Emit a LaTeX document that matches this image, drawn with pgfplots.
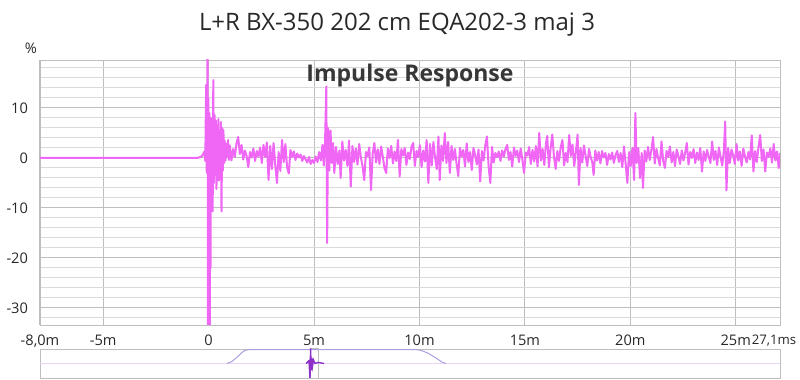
\documentclass[border=0pt]{standalone}
\usepackage{pgfplots}
\pgfplotsset{compat=1.18}
\usetikzlibrary{calc}
\usepackage{fontspec}
\setmainfont{Open Sans}
\definecolor{irpink}{RGB}{240,102,245}
\definecolor{gridmaj}{RGB}{190,190,190}
\definecolor{gridmin}{RGB}{218,218,218}
\definecolor{txt}{RGB}{40,40,40}
\definecolor{winpurple}{RGB}{170,160,225}
\definecolor{ovtrace}{RGB}{232,212,245}
\definecolor{ovimp}{RGB}{140,50,200}
\begin{document}
\begin{tikzpicture}
\begin{axis}[
  name=main,
  at={(0,0)}, anchor=south west, scale only axis,
  width=370pt, height=132.5pt,
  xmin=-8, xmax=27.1, ymin=-33.4, ymax=19.6,
  axis line style={gridmaj},
  xtick={-8,-5,0,5,10,15,20,25,27.1},
  xticklabels={-8{,}0m,-5m,0,5m,10m,15m,20m,25m,{\makebox[0pt][c]{\hspace*{-6pt}\fontsize{6.6}{8}\selectfont 27{,}1ms}}},
  ytick={-30,-20,-10,0,10},
  yticklabels={-30,-20,-10,0,10},
  minor ytick={-32,-28,-26,-24,-22,-18,-16,-14,-12,-8,-6,-4,-2,2,4,6,8,12,14,16,18},
  xmajorgrids, ymajorgrids, yminorgrids,
  major grid style={gridmaj, line width=0.5pt},
  minor grid style={gridmin, line width=0.5pt},
  major tick length=0pt, minor tick length=0pt,
  tick label style={font=\fontsize{7.3}{9}\selectfont, text=txt},
  xticklabel style={yshift=-1.5pt},
  yticklabel style={xshift=-2.5pt},
  /pgf/number format/assume math mode=true,
  clip=true,
]
\addplot[irpink, line width=1pt, line join=round] table {
x y
-8 0
-1.0 0
-0.5 0.05
-0.4 0.2
-0.32 0.4
-0.26 0.8
-0.2 1.3
-0.16 -0.6
-0.12 14.6
-0.09 -3
-0.07 6
-0.05 25
-0.03 -40
-0.01 12
0.01 -40
0.03 9
0.05 -40
0.07 5
0.09 -22
0.11 8
0.13 -9
0.16 6
0.19 -10.7
0.22 15.6
0.25 -5
0.28 8.6
0.31 -3
0.34 7.5
0.37 -6.2
0.40 6.5
0.43 -2
0.46 7.8
0.49 -4.5
0.52 5.5
0.55 -1
0.58 7.2
0.61 -10.7
0.64 6
0.67 -2.5
0.70 5.6
0.73 -1
0.76 3.5
0.80 -0.5
0.84 2.8
0.88 0.2
0.92 3.6
0.96 -0.4
1.00 2.5
1.08 -0.5
1.16 1.8
1.24 0.2
1.32 2.9
1.40 4.2
1.48 0.8
1.56 2.6
1.64 -0.3
1.72 1.5
1.80 0.4
1.88 -1.8
1.96 1.2
2.04 0.1
2.12 1.9
2.20 -0.6
2.28 1.4
2.36 0.3
2.44 2.1
2.52 -1.0
2.60 2.6
2.68 0.2
2.76 3.1
2.84 -4.4
2.92 2.4
3.00 -2.2
3.08 3.0
3.16 -1.5
3.24 -5.0
3.32 1.2
3.40 -2.6
3.48 3.6
3.56 -0.8
3.64 2.8
3.72 -1.9
3.80 -3.1
3.88 1.6
3.96 0.2
4.04 1.3
4.12 -0.4
4.20 0.9
4.28 0.1
4.36 0.7
4.44 -0.6
4.52 0.4
4.60 -0.3
4.68 -0.9
4.76 0.2
4.84 -1.2
4.92 -0.4
5.00 -1.0
5.08 0.3
5.16 -0.8
5.24 1.2
5.32 -0.5
5.40 2.6
5.46 -1.5
5.52 3.0
5.58 14.3
5.62 -17.0
5.66 6.0
5.72 -2.5
5.78 5.5
5.84 -1.0
5.90 3.0
5.96 -3.0
6.04 2.2
6.12 -1.2
6.20 1.5
6.26 -4.0
6.34 3.3
6.42 -0.5
6.50 1.6
6.58 -1.6
6.66 3.5
6.74 -5.7
6.82 2.4
6.90 -0.8
6.98 1.9
7.06 -1.3
7.14 2.8
7.22 0.1
7.30 -1.6
7.38 -4.4
7.46 1.2
7.54 0.4
7.62 2.1
7.70 -6.4
7.78 0.9
7.86 3.0
7.94 -0.9
8.02 1.7
8.10 -1.2
8.18 2.3
8.26 0.3
8.34 -2.0
8.42 -3.0
8.50 1.9
8.58 0.0
8.66 2.4
8.74 -1.1
8.82 1.3
8.90 -0.6
8.98 3.6
9.06 -3.7
9.14 1.8
9.22 0.5
9.30 2.0
9.38 -1.4
9.46 1.1
9.54 -0.2
9.62 2.2
9.70 3.0
9.78 -1.6
9.86 1.4
9.94 0.2
10.02 2.6
10.10 -1.8
10.18 1.5
10.26 -0.7
10.34 3.6
10.42 -5.0
10.50 2.8
10.58 -1.5
10.66 3.2
10.74 0.1
10.82 -2.2
10.90 4.3
10.96 -4.4
11.04 2.5
11.12 -0.6
11.20 5.0
11.28 -1.0
11.36 3.2
11.44 -3.0
11.52 2.4
11.60 -0.4
11.68 1.8
11.76 -1.2
11.84 -3.6
11.92 2.0
12.00 0.3
12.08 1.6
12.16 -1.7
12.24 2.9
12.32 -0.8
12.40 1.2
12.48 -2.4
12.56 2.0
12.64 0.6
12.72 -1.3
12.80 1.7
12.88 -4.7
12.96 1.4
13.04 -0.5
13.12 2.5
13.20 4.3
13.28 -1.8
13.36 -5.0
13.44 2.2
13.52 -0.9
13.60 1.0
13.68 0.2
13.76 1.3
13.84 -0.6
13.92 1.5
14.00 0.3
14.08 1.8
14.16 2.6
14.24 -0.4
14.32 1.2
14.40 -1.7
14.48 2.1
14.56 0.4
14.64 1.5
14.72 -0.8
14.80 1.9
14.88 -0.3
14.96 -3.0
15.04 1.1
15.12 0.5
15.20 2.2
15.28 -1.2
15.36 1.6
15.44 -0.7
15.52 2.4
15.60 -1.7
15.68 5.0
15.76 -0.5
15.84 1.8
15.92 -1.4
16.00 3.0
16.06 4.4
16.14 -1.9
16.22 2.0
16.30 4.7
16.38 0.2
16.46 -2.2
16.54 1.4
16.62 -0.6
16.70 2.2
16.78 3.6
16.86 -1.5
16.94 1.0
17.02 -0.8
17.10 4.6
17.18 0.4
17.26 2.7
17.34 -1.6
17.42 1.3
17.50 4.7
17.56 -5.4
17.64 2.0
17.72 -0.9
17.80 2.5
17.88 0.4
17.96 -1.6
18.04 1.8
18.12 0.2
18.20 -0.9
18.26 -3.4
18.34 1.5
18.42 -0.5
18.50 1.2
18.58 -1.1
18.66 1.4
18.74 0.1
18.82 1.0
18.90 -1.4
18.98 0.8
19.06 -0.3
19.14 1.1
19.22 -1.0
19.30 0.6
19.38 1.4
19.46 -0.8
19.54 1.0
19.62 -1.8
19.70 2.3
19.78 -1.2
19.86 -5.0
19.94 1.2
20.02 -1.6
20.10 2.0
20.18 -4.4
20.24 9.0
20.30 -1.0
20.38 2.0
20.46 -4.0
20.54 1.0
20.60 -6.0
20.68 1.5
20.76 -0.7
20.84 2.2
20.92 -0.4
21.00 1.6
21.08 4.2
21.16 -1.1
21.24 1.8
21.32 0.0
21.40 -1.5
21.48 3.3
21.56 -0.6
21.64 -2.0
21.72 1.4
21.80 0.2
21.88 2.3
21.96 -0.9
22.04 1.2
22.12 -1.6
22.20 1.7
22.28 0.4
22.36 -1.2
22.44 1.5
22.52 -0.5
22.60 1.0
22.68 3.0
22.76 -1.3
22.84 1.2
22.92 0.0
23.00 1.8
23.08 -1.0
23.16 1.1
23.24 -0.4
23.32 2.0
23.40 -2.7
23.48 1.3
23.56 -0.6
23.64 1.6
23.72 0.3
23.80 -1.0
23.88 3.3
23.96 -0.4
24.04 1.4
24.12 -1.4
24.20 2.1
24.28 0.2
24.36 -1.5
24.44 1.6
24.50 7.3
24.56 -6.5
24.64 2.0
24.72 -1.0
24.80 1.7
24.88 0.5
24.96 -1.2
25.04 2.8
25.12 -0.5
25.20 1.3
25.28 -1.6
25.36 1.9
25.44 0.3
25.52 -0.9
25.60 1.2
25.68 -0.3
25.76 4.5
25.84 -2.7
25.92 1.4
26.00 -0.8
26.08 2.2
26.16 4.6
26.24 -0.6
26.32 1.7
26.40 -2.7
26.48 1.1
26.56 0.2
26.64 1.9
26.72 -0.9
26.80 2.8
26.88 -0.5
26.96 1.3
27.04 -2.0
27.10 1.0
};
\end{axis}
\begin{axis}[
  at={(main.south west)}, anchor=north west, yshift=-12pt, scale only axis,
  width=370pt, height=14.5pt,
  xmin=0, xmax=740, ymin=-1.05, ymax=1.05,
  axis line style={gridmaj}, ticks=none,
]
\addplot[ovtrace, line width=0.8pt] coordinates {(0,0) (740,0)};
\addplot[winpurple, line width=0.5pt] coordinates {(187,0) (192,0.15) (197,0.45) (202,0.8) (205,0.95) (209,1) (376,1) (381,0.95) (388,0.75) (396,0.4) (402,0.1) (406,0)};
\addplot[gridmaj, line width=0.5pt] coordinates {(270,-1.05) (270,1.05) (278,1.05) (278,-1.05)};
\addplot[ovimp, line width=0.7pt] coordinates {(266,0) (269,0.2) (270,-1.1) (270.6,1.1) (271.2,-0.5) (271.8,0.4) (272.5,-0.2) (273.5,0.25) (275,0) (278,0.08) (284,0)};
\end{axis}
\coordinate (O) at ($(main.south west)+(-20pt,-27.5pt)$);
\node[font=\fontsize{12}{14}\selectfont, text=txt] at ($(O)+(198.5pt,177.5pt)$) {L+R BX-350 202 cm EQA202-3 maj 3};
\node[font=\fontsize{7.3}{9}\selectfont, text=txt] at ($(O)+(15.5pt,166pt)$) {\%};
\node[font=\bfseries\fontsize{11.5}{13}\selectfont, text={rgb,255:red,55;green,55;blue,55}] at ($(O)+(205pt,152pt)$) {Impulse Response};
\pgfresetboundingbox
\path[use as bounding box] (O) rectangle ($(O)+(400pt,190pt)$);
\end{tikzpicture}
\end{document}
